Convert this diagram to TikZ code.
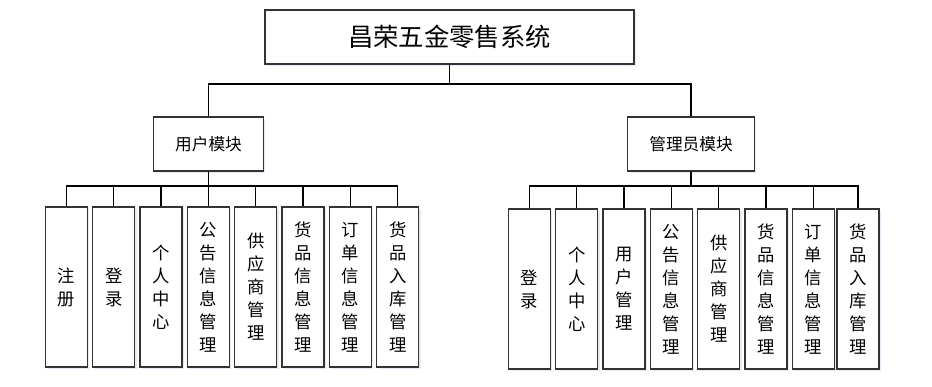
\documentclass[tikz,border=0pt]{standalone}
\usepackage{fontspec}
\newfontfamily\cjk{Noto Sans CJK SC}
\usepackage{tikz}
\usetikzlibrary{positioning,shadows}
\definecolor{boxline}{HTML}{333333}
\definecolor{shade}{HTML}{E4EAF6}
\tikzset{
  sysbox/.style={
    rectangle, draw=boxline, thick, fill=white,
    drop shadow={shadow xshift=1.5pt, shadow yshift=-1.5pt, fill=shade, opacity=1},
    minimum width=276.75pt, minimum height=40.5pt,
    font=\cjk\fontsize{19}{22}\selectfont
  },
  modbox/.style={
    rectangle, draw=boxline, thick, fill=white,
    drop shadow={shadow xshift=1.5pt, shadow yshift=-1.5pt, fill=shade, opacity=1},
    minimum height=40.5pt, inner sep=0pt,
    font=\cjk\fontsize{12.5}{15}\selectfont
  },
  leafbox/.style={
    rectangle, draw=boxline, thick, fill=white,
    drop shadow={shadow xshift=1.5pt, shadow yshift=-1.5pt, fill=shade, opacity=1},
    minimum width=31.5pt, minimum height=120pt, inner sep=0pt,
    align=center, font=\cjk\fontsize{13}{17.25}\selectfont
  },
  mainline/.style={line width=1.2pt, color=black},
  busline/.style={line width=0.8pt, color=black},
}
\begin{document}
\begin{tikzpicture}[x=0.75pt,y=-0.75pt]
  \useasboundingbox (0,0) rectangle (932,386);

  \node[sysbox] (sys) at (449.5,37) {昌荣五金零售系统};
  \node[modbox, minimum width=82pt] (usr) at (208.5,144) {用户模块};
  \node[modbox, minimum width=95pt] (adm) at (691,144) {管理员模块};

  \coordinate (top) at (449.5,84);
  \draw[mainline] (sys.south) -- (top);
  \draw[mainline] (top) -| (usr.north);
  \draw[mainline] (top) -| (adm.north);

  % user module leaves
  \coordinate (ubus) at (208.5,186);
  \draw[busline] (usr.south) -- (ubus);
  \foreach \x/\txt [count=\i] in {66.3/注\\册, 113.7/登\\录, 161/个\\人\\中\\心,
      208.3/公\\告\\信\\息\\管\\理, 255.7/供\\应\\商\\管\\理, 303/货\\品\\信\\息\\管\\理,
      350.3/订\\单\\信\\息\\管\\理, 397.7/货\\品\\入\\库\\管\\理} {
    \node[leafbox] (ul\i) at (\x,287) {\txt};
    \draw[busline] (ubus) -| (ul\i.north);
  }

  % admin module leaves
  \coordinate (abus) at (691,186);
  \draw[busline] (adm.south) -- (abus);
  \foreach \x/\txt [count=\i] in {529.3/登\\录, 576.7/个\\人\\中\\心, 624/用\\户\\管\\理,
      671.3/公\\告\\信\\息\\管\\理, 718.7/供\\应\\商\\管\\理, 766/货\\品\\信\\息\\管\\理,
      813.3/订\\单\\信\\息\\管\\理, 858/货\\品\\入\\库\\管\\理} {
    \node[leafbox] (al\i) at (\x,289) {\txt};
    \draw[busline] (abus) -| (al\i.north);
  }
\end{tikzpicture}
\end{document}
